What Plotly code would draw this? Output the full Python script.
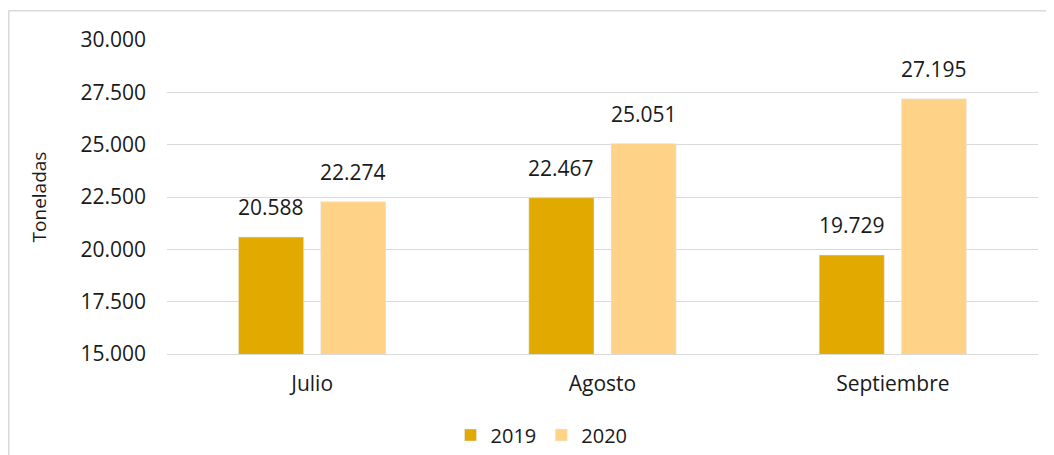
import plotly.graph_objects as go

categories = ["Julio", "Agosto", "Septiembre"]
values_2019 = [20588, 22467, 19729]
values_2020 = [22274, 25051, 27195]
labels_2019 = ["20.588", "22.467", "19.729"]
labels_2020 = ["22.274", "25.051", "27.195"]
tick_vals = [15000, 17500, 20000, 22500, 25000, 27500, 30000]
tick_text = ["15.000", "17.500", "20.000", "22.500", "25.000", "27.500", "30.000"]

FONT = "Open Sans"
OFF = 8  # page body margin offset
W, H = 1054 - OFF, 455 - OFF
ml, mr, mt, mb = 167 - OFF, 16, 40 - OFF, 101
pw, ph = W - ml - mr, H - mt - mb

BARGAP = 0.434
GROUPGAP = 0.207
cat_w = pw / len(categories)
slot = cat_w * (1 - BARGAP) / 2

fig = go.Figure()
fig.add_trace(go.Bar(name="2019", x=categories, y=values_2019,
                     marker_color="#E2A900"))
fig.add_trace(go.Bar(name="2020", x=categories, y=values_2020,
                     marker_color="#FFD387"))

for vals, labs, sgn in [(values_2019, labels_2019, -1), (values_2020, labels_2020, 1)]:
    for c, v, t in zip(categories, vals, labs):
        fig.add_annotation(x=c, y=v, text=t, showarrow=False,
                           xanchor="center", yanchor="bottom",
                           xshift=sgn * slot / 2, yshift=14,
                           font=dict(size=21, color="#1a1a1a", family=FONT))

def px_x(p):
    return (p - OFF - ml) / pw

def px_y(p):
    return (H - mb - (p - OFF)) / ph

fig.add_shape(type="line", xref="paper", yref="paper",
              x0=px_x(8.75), x1=px_x(8.75), y0=px_y(10.5), y1=px_y(470),
              line=dict(color="#D9D9D9", width=1.5))
fig.add_shape(type="line", xref="paper", yref="paper",
              x0=px_x(8.75), x1=px_x(1060), y0=px_y(10.75), y1=px_y(10.75),
              line=dict(color="#D9D9D9", width=1.5))

fig.update_layout(
    width=W, height=H,
    margin=dict(l=ml, r=mr, t=mt, b=mb, autoexpand=False),
    paper_bgcolor="white", plot_bgcolor="white",
    barmode="group", bargap=BARGAP, bargroupgap=GROUPGAP,
    font=dict(family=FONT, size=20, color="#1a1a1a"),
    showlegend=True,
    legend=dict(orientation="h", x=0.43, xanchor="center", y=px_y(435), yanchor="middle",
                font=dict(size=20), itemwidth=30, traceorder="normal"),
)
fig.update_yaxes(range=[15000, 30000], tickvals=tick_vals, ticktext=tick_text,
                 showgrid=True, gridcolor="#D9D9D9", gridwidth=1.3,
                 zeroline=False, showline=False, ticks="", ticklabelstandoff=20,
                 title=dict(text="Toneladas", font=dict(size=19), standoff=28),
                 tickfont=dict(size=21))
fig.update_xaxes(showline=True, linecolor="#D9D9D9", linewidth=1.3, ticks="",
                 tickfont=dict(size=21), ticklabelstandoff=11)

fig.write_html("out.html")
